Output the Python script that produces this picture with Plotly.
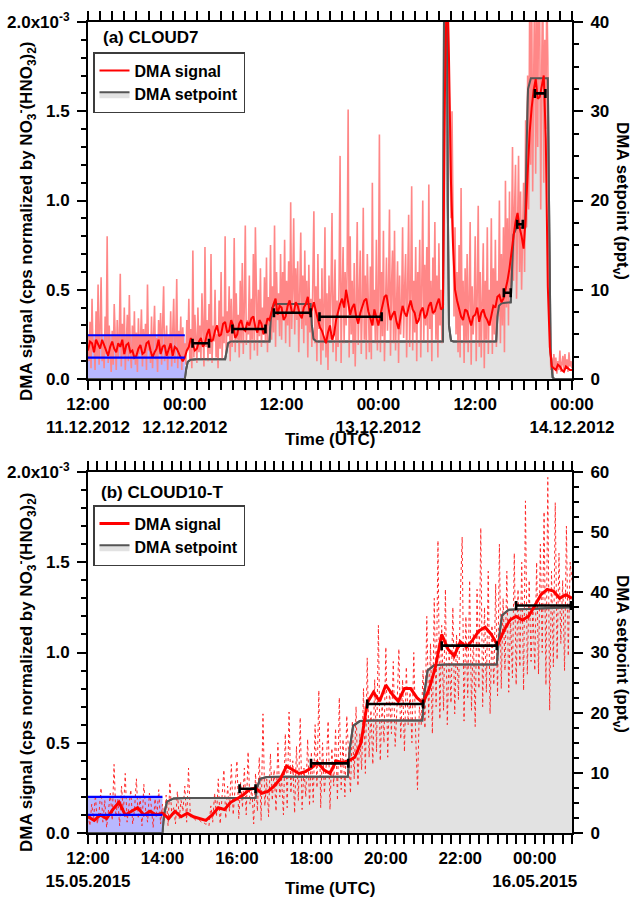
import numpy as np
import plotly.graph_objects as go

# ---------------- Panel (a) CLOUD7 : hours since 11.12.2012 12:00 UTC ----------------
A_RAW_STEP_H = 0.125
a_raw = [  # DMA signal, raw (units of 1e-3), one row per hour
    0.25,0.10,0.32,0.06,0.45,0.15,0.22,0.05,
    0.38,0.12,0.53,0.08,0.28,0.57,0.10,0.20,
    0.06,0.35,0.14,0.80,0.09,0.30,0.18,0.04,
    0.27,0.08,0.42,0.16,0.05,0.33,0.12,0.24,
    0.59,0.07,0.31,0.13,0.40,0.05,0.22,0.36,
    0.10,0.47,0.15,0.06,0.30,0.11,0.38,0.08,
    0.26,0.04,0.34,0.14,0.21,0.39,0.07,0.28,
    0.12,0.31,0.05,0.53,0.16,0.25,0.09,0.35,
    0.06,0.29,0.41,0.11,0.23,0.04,0.33,0.15,
    0.37,0.08,0.26,0.52,0.10,0.19,0.30,0.05,
    0.24,0.13,0.38,0.07,0.31,0.45,0.09,0.21,
    0.56,0.06,0.27,0.14,0.35,0.05,0.29,0.12,
    0.20,0.08,0.33,0.16,0.45,0.10,0.28,0.06,
    0.72,0.12,0.36,0.20,0.09,0.40,0.15,0.30,
    0.11,0.48,0.22,0.07,0.74,0.18,0.33,0.10,
    0.42,0.14,0.70,0.09,0.30,0.21,0.50,0.12,
    0.25,0.06,0.44,0.17,0.60,0.11,0.35,0.20,
    0.80,0.13,0.38,0.24,0.52,0.10,0.45,0.18,
    0.30,0.79,0.15,0.48,0.22,0.36,0.12,0.55,
    0.20,0.65,0.14,0.40,0.86,0.19,0.33,0.25,
    0.58,0.11,0.45,0.22,0.70,0.16,0.85,0.28,
    0.13,0.50,0.24,0.62,0.18,0.40,0.26,0.57,
    0.20,0.68,0.15,0.46,0.30,0.75,0.22,0.52,
    0.26,0.86,0.18,0.60,0.33,0.48,0.24,0.70,
    0.22,0.60,0.35,0.78,0.20,0.55,0.30,0.66,
    0.18,0.99,0.28,0.50,0.90,0.25,0.62,0.33,
    0.66,0.15,0.48,0.82,0.28,0.58,0.20,0.72,
    0.30,0.55,0.12,0.64,0.26,0.45,0.18,0.60,
    0.94,0.20,0.52,0.10,0.70,0.28,0.45,0.08,
    0.62,0.16,0.40,0.85,0.12,0.48,0.05,0.58,
    0.22,0.50,0.93,0.15,0.36,0.67,0.10,0.44,
    0.18,0.55,1.25,0.09,0.48,0.74,0.20,0.60,
    0.30,0.62,1.51,0.12,0.80,0.25,0.55,0.14,
    0.65,0.07,0.42,0.88,0.19,0.52,0.72,0.14,
    0.40,0.96,0.22,0.58,0.11,0.70,0.35,0.15,
    0.63,0.11,1.10,0.30,0.50,0.20,0.78,0.16,
    0.45,1.37,0.15,0.60,0.24,0.83,0.10,0.55,
    0.68,0.27,0.48,0.95,0.13,0.52,0.72,0.20,
    0.83,0.16,0.46,0.66,0.09,0.58,0.25,0.40,
    0.85,0.23,0.50,0.70,0.12,0.62,0.92,0.18,
    0.48,1.08,0.16,0.55,0.26,0.74,0.10,0.60,
    0.35,0.78,0.12,0.52,1.00,0.21,0.64,0.30,
    0.74,0.15,1.09,0.28,0.55,0.10,0.68,0.36,
    0.88,0.22,0.58,0.12,0.76,0.30,0.50,0.20,
    0.40,1.20,2.40,2.50,2.40,2.10,1.60,1.30,
    0.90,1.50,0.70,0.35,0.85,0.25,0.60,0.15,
    0.75,0.12,1.07,0.30,0.55,0.09,0.62,0.20,
    0.70,0.15,0.45,0.88,0.08,0.52,0.25,0.40,
    0.80,0.10,0.48,0.97,0.18,0.60,0.12,0.44,
    0.76,0.06,0.55,0.22,0.85,0.14,0.50,0.30,
    0.90,0.14,0.62,0.25,0.78,0.18,0.55,0.35,
    1.00,0.20,0.70,0.30,0.85,0.15,1.11,0.40,
    0.90,0.30,1.05,0.50,0.75,1.30,0.55,0.95,
    1.20,0.45,0.85,1.25,0.60,1.05,0.50,0.95,
    1.10,0.60,1.45,0.85,1.70,0.95,2.10,1.20,
    2.20,1.05,1.80,2.30,1.15,2.00,1.30,2.40,
    2.00,0.95,1.75,2.30,1.10,1.90,1.40,2.20,
    1.80,0.60,0.25,0.05,0.12,0.03,0.14,0.06,
    0.12,0.03,0.10,0.05,0.16,0.04,0.09,0.13,
    0.05,0.14,0.06,0.11,0.04,0.15,0.07,0.10,
    0.06,
]
A_SMOOTH_STEP_H = 0.25
a_smooth = [  # DMA signal, smoothed (units of 1e-3), one row per 2 h
    0.16,0.21,0.20,0.15,0.22,0.19,0.17,0.22,
    0.19,0.16,0.13,0.18,0.21,0.17,0.15,0.20,
    0.18,0.22,0.14,0.19,0.20,0.15,0.16,0.12,
    0.13,0.17,0.19,0.14,0.15,0.20,0.21,0.16,
    0.12,0.15,0.17,0.22,0.14,0.18,0.19,0.13,
    0.16,0.20,0.13,0.18,0.17,0.14,0.12,0.10,
    0.12,0.16,0.18,0.23,0.20,0.16,0.17,0.21,
    0.23,0.18,0.20,0.25,0.28,0.21,0.22,0.27,
    0.30,0.24,0.25,0.31,0.32,0.26,0.27,0.33,
    0.30,0.23,0.25,0.31,0.33,0.28,0.27,0.32,
    0.30,0.34,0.35,0.29,0.26,0.33,0.31,0.25,
    0.28,0.34,0.33,0.38,0.42,0.45,0.36,0.41,
    0.40,0.33,0.35,0.41,0.44,0.38,0.37,0.43,
    0.41,0.36,0.34,0.40,0.42,0.46,0.36,0.39,
    0.43,0.38,0.33,0.29,0.27,0.23,0.20,0.26,
    0.30,0.22,0.25,0.33,0.38,0.42,0.45,0.40,
    0.50,0.44,0.36,0.40,0.42,0.35,0.31,0.37,
    0.40,0.44,0.45,0.38,0.34,0.30,0.39,0.35,
    0.30,0.36,0.42,0.46,0.47,0.40,0.33,0.36,
    0.38,0.32,0.28,0.35,0.41,0.37,0.35,0.40,
    0.44,0.39,0.37,0.31,0.33,0.38,0.40,0.34,
    0.36,0.41,0.43,0.37,0.38,0.42,0.45,0.39,
    0.40,1.60,2.30,1.80,1.10,0.75,0.50,0.44,
    0.40,0.35,0.33,0.39,0.38,0.34,0.30,0.35,
    0.36,0.40,0.32,0.37,0.39,0.35,0.33,0.30,
    0.35,0.41,0.40,0.46,0.47,0.43,0.45,0.50,
    0.55,0.62,0.72,0.80,0.88,0.93,0.85,0.80,
    0.73,0.90,1.15,1.38,1.52,1.62,1.68,1.57,
    1.58,1.64,1.70,1.35,0.52,0.18,0.07,0.06,
    0.05,0.08,0.07,0.05,0.04,0.07,0.06,0.05,
    0.05,
]
a_set_t = [0, 12.0, 12.15, 12.35, 12.7, 13.5, 17.0, 17.15, 17.35, 17.7, 22.5, 22.65, 22.85, 23.2,
           27.6, 27.75, 27.95, 28.3, 44.0, 44.05, 44.15, 44.4, 44.5, 44.6, 44.75, 45.0, 45.3,
           50.6, 50.75, 50.95, 51.3, 52.4, 52.55, 52.75, 53.1, 54.2, 54.35, 54.55, 54.9,
           57.0, 57.15, 57.35, 57.6, 57.8, 60.0]
a_set_v = [0, 0, 1.0, 1.9, 2.15, 2.2, 2.2, 3.2, 4.0, 4.2, 4.2, 6.5, 8.0, 8.4,
           8.4, 6.0, 4.5, 4.2, 4.2, 20, 45, 45, 45, 20, 6, 4.3, 4.2,
           4.2, 7.0, 8.2, 8.5, 8.6, 13.0, 16.2, 16.9, 17.0, 25.0, 32.5, 33.7,
           33.7, 20.0, 3.0, 0.2, 0, 0]
a_bar_start = [12.96, 17.9, 23.05, 28.7, 51.55, 53.2, 55.4]
a_bar_end = [15.0, 22.0, 27.6, 36.4, 52.4, 53.9, 56.7]
a_bar_val = [0.20, 0.28, 0.371, 0.349, 0.483, 0.867, 1.60]
a_bg_span = [0, 12]
a_bg_lines = [0.12, 0.245]
a_tickvals = [0, 12, 24, 36, 48, 60]
a_ticktext = ["12:00<br>11.12.2012", "00:00<br>12.12.2012", "12:00",
              "00:00<br>13.12.2012", "12:00", "00:00<br>14.12.2012"]

# ---------------- Panel (b) CLOUD10-T : hours since 15.05.2015 12:00 UTC ----------------
B_RAW_STEP_H = 0.05
b_raw = [  # one row per hour
    0.10,0.04,0.16,0.08,0.21,0.05,0.12,0.25,0.06,0.18,0.03,0.14,0.22,0.07,0.38,0.09,0.19,0.04,0.26,0.11,
    0.33,0.06,0.17,0.24,0.05,0.13,0.30,0.08,0.20,0.04,0.27,0.12,0.06,0.22,0.15,0.03,0.19,0.09,0.24,0.05,
    0.16,0.07,0.21,0.04,0.28,0.10,0.14,0.05,0.23,0.08,0.18,0.12,0.26,0.06,0.36,0.09,0.08,0.08,0.07,0.07,
    0.07,0.06,0.06,0.05,0.05,0.04,0.15,0.06,0.22,0.09,0.30,0.05,0.18,0.35,0.08,0.26,0.12,0.38,0.10,0.24,
    0.40,0.08,0.28,0.14,0.36,0.10,0.45,0.16,0.25,0.05,0.33,0.12,0.42,0.07,0.66,0.15,0.30,0.09,0.44,0.18,
    0.35,0.12,0.50,0.20,0.30,0.10,0.55,0.14,0.67,0.22,0.40,0.11,0.48,0.18,0.64,0.13,0.36,0.20,0.52,0.15,
    0.45,0.17,0.60,0.25,0.79,0.14,0.50,0.22,0.38,0.62,0.13,0.47,0.26,0.58,0.18,0.75,0.24,0.52,0.20,0.65,
    0.40,0.22,0.62,0.30,0.70,0.26,0.55,0.35,0.80,0.33,0.97,0.42,0.68,0.38,0.85,0.45,1.15,0.40,0.72,0.50,
    1.03,0.42,0.80,0.55,0.95,0.48,0.70,1.02,0.52,0.85,0.45,0.92,0.60,0.78,0.50,1.00,0.55,0.24,0.70,0.60,
    0.90,0.58,1.20,0.64,1.05,0.55,1.30,0.70,1.62,0.63,1.15,0.68,1.35,0.60,1.00,0.72,1.25,0.66,1.10,0.74,
    1.30,1.64,0.62,1.20,0.75,1.40,0.68,1.10,0.59,1.35,0.80,1.69,0.70,1.25,0.78,1.45,0.66,1.15,0.82,1.38,
    0.76,1.60,0.80,1.30,0.90,1.45,0.78,1.20,0.86,1.55,0.82,1.35,0.92,1.50,0.79,1.84,0.88,1.40,0.95,1.25,
    0.90,1.50,0.88,1.60,1.00,1.78,0.82,1.97,0.68,1.45,0.92,1.83,0.96,1.55,1.05,1.40,0.90,1.70,0.98,1.50,
    1.40,
]
B_SMOOTH_STEP_H = 1 / 6
b_smooth = [
    0.09,0.07,0.10,0.08,0.13,0.17,
    0.10,0.12,0.14,0.10,0.12,0.10,
    0.11,0.08,0.12,0.09,0.11,0.09,
    0.08,0.07,0.10,0.14,0.13,0.17,
    0.19,0.21,0.24,0.25,0.22,0.23,
    0.26,0.30,0.37,0.35,0.33,0.34,
    0.36,0.39,0.35,0.33,0.40,0.39,
    0.40,0.42,0.50,0.72,0.78,0.73,
    0.82,0.77,0.73,0.80,0.80,0.75,
    0.72,0.80,0.92,1.10,1.02,0.98,
    1.06,1.03,1.07,1.12,1.14,1.10,
    1.04,1.12,1.18,1.20,1.18,1.20,
    1.26,1.32,1.35,1.34,1.30,1.32,
    1.30,
]
b_set_t = [0, 2.0, 2.04, 2.12, 2.3, 2.6, 4.5, 4.54, 4.62, 4.8, 5.2, 6.98, 7.03, 7.12, 7.3, 7.6,
           8.98, 9.03, 9.12, 9.3, 9.6, 10.98, 11.03, 11.12, 11.3, 11.6, 13.0]
b_set_v = [0, 0, 3.0, 5.2, 5.75, 5.8, 5.8, 7.5, 9.0, 9.3, 9.35, 9.35, 14.0, 17.8, 18.6, 18.7,
           18.7, 23.0, 27.0, 27.9, 28.0, 28.0, 32.0, 36.2, 37.1, 37.2, 37.5]
b_bar_start = [4.07, 5.99, 7.5, 9.5, 11.5]
b_bar_end = [4.5, 6.99, 9.0, 10.98, 12.97]
b_bar_val = [0.245, 0.386, 0.715, 1.038, 1.26]
b_bg_span = [0, 2]
b_bg_lines = [0.10, 0.20]
b_tickvals = list(range(0, 14))
b_ticktext = ["12:00<br>15.05.2015", "", "14:00", "", "16:00", "", "18:00", "", "20:00", "",
              "22:00", "", "00:00<br>16.05.2015", ""]

# ---------------- styling ----------------
FONT = "Liberation Sans, Arial, sans-serif"
TF = dict(family=FONT, size=17, color="black", weight="bold")
SET_FILL = "rgb(226,226,226)"
SET_LINE = "rgb(85,85,85)"
BLUE_FILL = "rgb(184,184,255)"

fig = go.Figure()


def add_panel(xa, ys, ysig, ys_top, ysig_top, raw, raw_step, smooth, smooth_step,
              set_t, set_v, bstart, bend, bval, bg_span, bg_lines, legend, raw_line, smooth_w):
    t_raw = np.arange(len(raw)) * raw_step
    t_sm = np.arange(len(smooth)) * smooth_step
    raw_v = np.array(raw) * 1e-3
    sm_v = np.array(smooth) * 1e-3
    fig.add_trace(go.Scatter(x=set_t, y=set_v, xaxis=xa, yaxis=ys, mode="lines",
                             fill="tozeroy", fillcolor=SET_FILL,
                             line=dict(color=SET_LINE, width=2),
                             name="DMA setpoint", legend=legend, legendrank=2))
    fig.add_trace(go.Scatter(x=bg_span, y=[bg_lines[1] * 1e-3] * 2, xaxis=xa, yaxis=ysig,
                             mode="lines", fill="tozeroy", fillcolor=BLUE_FILL,
                             line=dict(width=0), showlegend=False, hoverinfo="skip"))
    fig.add_trace(go.Scatter(x=t_raw, y=raw_v, xaxis=xa, yaxis=ysig, mode="lines",
                             line=raw_line, showlegend=False))
    fig.add_trace(go.Scatter(x=set_t, y=set_v, xaxis=xa, yaxis=ys_top, mode="lines",
                             line=dict(color=SET_LINE, width=2), showlegend=False))
    fig.add_trace(go.Scatter(x=t_sm, y=sm_v, xaxis=xa, yaxis=ysig_top, mode="lines",
                             line=dict(color="rgb(255,0,0)", width=smooth_w),
                             name="DMA signal", legend=legend, legendrank=1))
    for v in bg_lines:
        fig.add_trace(go.Scatter(x=bg_span, y=[v * 1e-3] * 2, xaxis=xa, yaxis=ysig_top,
                                 mode="lines", line=dict(color="rgb(0,0,255)", width=2.2),
                                 showlegend=False))
    bs, be = np.array(bstart), np.array(bend)
    fig.add_trace(go.Scatter(x=(bs + be) / 2, y=np.array(bval) * 1e-3, xaxis=xa, yaxis=ysig_top,
                             mode="markers", marker=dict(size=1, color="black"),
                             error_x=dict(type="data", array=(be - bs) / 2, symmetric=True,
                                          color="black", thickness=2.6, width=4.5),
                             showlegend=False))


add_panel("x", "y", "y2", "y3", "y4", a_raw, A_RAW_STEP_H, a_smooth, A_SMOOTH_STEP_H,
          a_set_t, a_set_v, a_bar_start, a_bar_end, a_bar_val, a_bg_span, a_bg_lines,
          "legend", dict(color="rgb(255,135,135)", width=1.6), 2)
add_panel("x2", "y5", "y6", "y7", "y8", b_raw, B_RAW_STEP_H, b_smooth, B_SMOOTH_STEP_H,
          b_set_t, b_set_v, b_bar_start, b_bar_end, b_bar_val, b_bg_span, b_bg_lines,
          "legend2", dict(color="rgb(255,40,40)", width=1, dash="dot"), 3)

W, H = 633, 899
XD = [88 / W, 572 / W]
DA = [1 - 379 / H, 1 - 22 / H]
DB = [1 - 833 / H, 1 - 472 / H]

axcommon = dict(showline=True, linecolor="black", linewidth=2, ticks="outside", ticklen=9,
                tickwidth=2, tickcolor="black", showgrid=False, zeroline=False, tickfont=TF,
                automargin=False, tickangle=0)

sig_vals = [0, 0.5e-3, 1.0e-3, 1.5e-3, 2.0e-3]
sig_text = ["0.0", "0.5", "1.0", "1.5", "2.0x10<sup>-3</sup>"]


def xax(rng, tv, tt, minor_dt, anchor):
    return dict(axcommon, domain=XD, range=rng, anchor=anchor, mirror="allticks",
                tickmode="array", tickvals=tv, ticktext=tt,
                minor=dict(dtick=minor_dt, tick0=0, ticks="outside", ticklen=5, tickwidth=1.5,
                           tickcolor="black"))


def setax(dom, rng, anchor):
    return dict(axcommon, domain=dom, range=rng, anchor=anchor, side="right", tickmode="linear",
                tick0=0, dtick=10, ticklabelstandoff=4,
                minor=dict(dtick=2.5, tick0=0, ticks="outside", ticklen=5, tickwidth=1.5,
                           tickcolor="black"))


def sigax(over, anchor):
    return dict(axcommon, overlaying=over, anchor=anchor, side="left", range=[0, 2.0e-3],
                tickmode="array", tickvals=sig_vals, ticktext=sig_text, ticklabelstandoff=4,
                minor=dict(dtick=1e-4, tick0=0, ticks="outside", ticklen=5, tickwidth=1.5,
                           tickcolor="black"))


def hidden(over, anchor, rng):
    return dict(overlaying=over, anchor=anchor, range=rng, visible=False, automargin=False)


legend_common = dict(xanchor="left", yanchor="top", bordercolor="rgb(60,60,60)", borderwidth=1.5,
                     bgcolor="white", font=dict(family=FONT, size=16, color="black", weight="bold"),
                     itemwidth=30, tracegroupgap=0)

fig.update_layout(
    width=W, height=H, autosize=False,
    margin=dict(l=0, r=0, t=0, b=0, autoexpand=False),
    paper_bgcolor="white", plot_bgcolor="white",
    showlegend=True,
    xaxis=xax([0, 60], a_tickvals, a_ticktext, 1.5, "y"),
    yaxis=setax(DA, [0, 40], "x"),
    yaxis2=sigax("y", "x"),
    yaxis3=hidden("y", "x", [0, 40]),
    yaxis4=hidden("y", "x", [0, 2.0e-3]),
    xaxis2=xax([0, 13], b_tickvals, b_ticktext, 0.25, "y5"),
    yaxis5=setax(DB, [0, 60], "x2"),
    yaxis6=sigax("y5", "x2"),
    yaxis7=hidden("y5", "x2", [0, 60]),
    yaxis8=hidden("y5", "x2", [0, 2.0e-3]),
    legend=dict(legend_common, x=93 / W, y=1 - 52 / H),
    legend2=dict(legend_common, x=93 / W, y=1 - 505 / H),
)

ann_font = dict(family=FONT, size=17, color="black", weight="bold")
left_title = "DMA signal (cps normalized by NO<sub>3</sub><sup>-</sup>(HNO<sub>3</sub>)<sub>2</sub>)"
right_title = "DMA setpoint (ppt<sub>v</sub>)"
anns = [
    dict(text="(a) CLOUD7", x=101 / W, y=1 - 38 / H, xanchor="left", yanchor="middle"),
    dict(text="(b) CLOUD10-T", x=99 / W, y=1 - 493 / H, xanchor="left", yanchor="middle"),
    dict(text=left_title, x=26 / W, y=1 - 221 / H, textangle=-90),
    dict(text=left_title, x=26 / W, y=1 - 672 / H, textangle=-90),
    dict(text=right_title, x=621 / W, y=1 - 201 / H, textangle=90),
    dict(text=right_title, x=621 / W, y=1 - 654 / H, textangle=90),
    dict(text="Time (UTC)", x=330 / W, y=1 - 440 / H),
    dict(text="Time (UTC)", x=330 / W, y=1 - 888 / H),
]
for a in anns:
    a.setdefault("xanchor", "center")
    a.setdefault("yanchor", "middle")
    fig.add_annotation(xref="paper", yref="paper", showarrow=False, font=ann_font, **a)

fig.write_html("out.html", config={"displayModeBar": False},
               post_script="document.body.style.margin='0px';document.body.style.padding='0px';")
